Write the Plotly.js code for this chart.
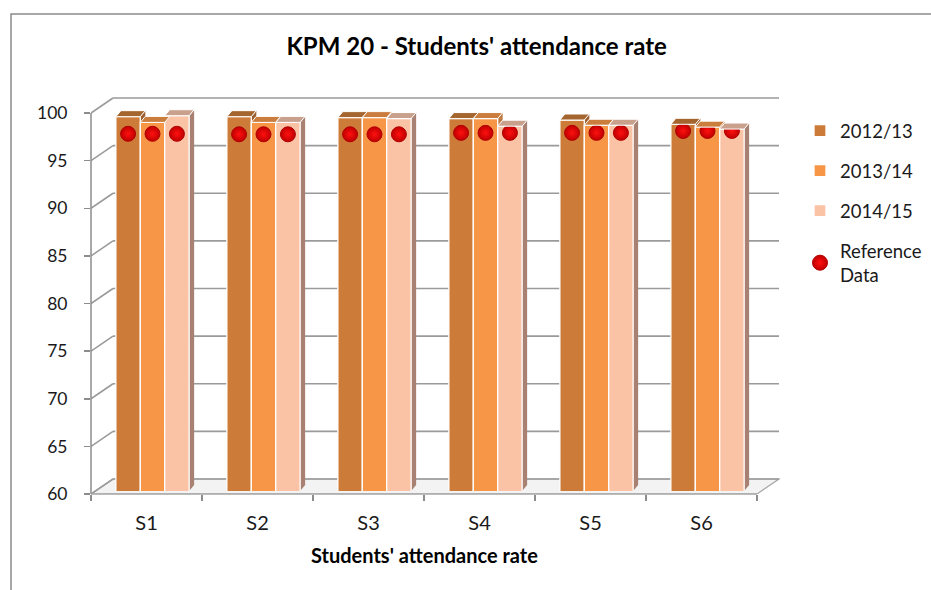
<!DOCTYPE html>
<html><head><meta charset="utf-8">
<script src="https://cdn.plot.ly/plotly-3.0.1.min.js"></script>
<style>html,body{margin:0;padding:0;background:#fff}#chart{width:931px;height:590px}</style>
</head><body><div id="chart"></div>
<script>
// ---- data ----
const categories = ['S1', 'S2', 'S3', 'S4', 'S5', 'S6'];
const seriesNames = ['2012/13', '2013/14', '2014/15'];
const values2012 = [99.3, 99.3, 99.2, 99.1, 98.95, 98.5];
const values2013 = [98.7, 98.7, 99.2, 99.1, 98.4, 98.2];
const values2014 = [99.4, 98.7, 99.1, 98.3, 98.4, 98.0];
const referenceData = [97.5, 97.45, 97.45, 97.6, 97.6, 97.8];
const yTickValues = [60, 65, 70, 75, 80, 85, 90, 95, 100];

const seriesValues = [values2012, values2013, values2014];

// ---- styling / geometry ----
const frontColors = ['#CD7B39', '#F79646', '#FAC3A5'];
const capColors = ['#A5652E', '#CB7D3D', '#C8A08C'];
const sideColors = ['#9C6132', '#C07A44', '#A98172'];
const W = 931, H = 590;
const M = {l: 91, r: 149, t: 94, b: 96};
const plotW = W - M.l - M.r;
const plotH = H - M.t - M.b;
const frontW = 666, frontH = 381;
const wallDX = 22, wallDY = 15;
const capDX = 5, capDY = 6;
const depthDX = 6, depthDY = 3;    // bars sit a little behind the front plane
const yMin = 60, yMax = 100;
const pxPerUnit = frontH / (yMax - yMin);
const yTop = yMin + plotH / pxPerUnit;
const catPx = frontW / categories.length;
const xLo = -0.5, xHi = xLo + plotW / catPx;
const bargap = 0.34;
const barW = (1 - bargap) / seriesNames.length;
const barPx = barW * catPx;
const gridColor = '#9a9a9a';
const axisColor = '#8c8c8c';
const FONT = 'Lato, "Open Sans", sans-serif';
const catIndex = categories.map((c, i) => i);
const boundaries = categories.map((c, i) => i - 0.5).concat([categories.length - 0.5]);

const traces = [];
seriesNames.forEach((nm, k) => {
  traces.push({
    type: 'bar', name: nm, x: categories, y: seriesValues[k], xaxis: 'x2', yaxis: 'y2',
    legendgroup: 'g' + k,
    marker: {color: frontColors[k], line: {color: '#ffffff', width: 1.3}},
    hoverinfo: 'x+y+name'
  });
});
seriesNames.forEach((nm, k) => {
  traces.push({
    type: 'scatter', mode: 'markers', name: 'Reference<br>Data',
    x: categories, y: referenceData, xaxis: 'x2', yaxis: 'y2',
    legendgroup: 'ref', showlegend: k === 0,
    marker: {size: 15, color: '#C00000', gradient: {type: 'radial', color: '#FF1010'},
             line: {color: '#B00000', width: 1}},
    hoverinfo: 'x+y'
  });
});

const shapes = [];
// floor
shapes.push({type: 'path', layer: 'below', xref: 'x', yref: 'y',
  xsizemode: 'pixel', ysizemode: 'pixel', xanchor: xLo, yanchor: yMin,
  path: `M0,0 L${frontW},0 L${frontW + wallDX},${wallDY} L${wallDX},${wallDY} Z`,
  fillcolor: '#f3f3f3', line: {color: '#a6a6a6', width: 1.2}});
// back wall grid + left wall diagonals
yTickValues.forEach(v => {
  shapes.push({type: 'line', layer: 'below', xref: 'x', yref: 'y',
    xsizemode: 'pixel', ysizemode: 'pixel', xanchor: xLo, yanchor: v,
    x0: wallDX, x1: wallDX + frontW, y0: wallDY, y1: wallDY,
    line: {color: gridColor, width: 1.6}});
  shapes.push({type: 'line', layer: 'below', xref: 'x', yref: 'y',
    xsizemode: 'pixel', ysizemode: 'pixel', xanchor: xLo, yanchor: v,
    x0: 0, x1: wallDX, y0: 0, y1: wallDY,
    line: {color: gridColor, width: 1.6}});
});
// bar side faces and caps
categories.forEach((c, i) => {
  seriesNames.forEach((nm, k) => {
    const v = seriesValues[k][i];
    const left = i - (1 - bargap) / 2 + k * barW;
    const h = (v - yMin) * pxPerUnit;
    shapes.push({type: 'path', layer: 'below', xref: 'x2', yref: 'y2',
      xsizemode: 'pixel', ysizemode: 'pixel', xanchor: left, yanchor: v,
      path: `M${barPx},0 L${barPx + capDX},${capDY} L${barPx + capDX},${capDY - h} L${barPx},${-h} Z`,
      fillcolor: sideColors[k], line: {width: 0}});
  });
});
categories.forEach((c, i) => {
  seriesNames.forEach((nm, k) => {
    const v = seriesValues[k][i];
    const left = i - (1 - bargap) / 2 + k * barW;
    shapes.push({type: 'path', layer: 'above', xref: 'x2', yref: 'y2',
      xsizemode: 'pixel', ysizemode: 'pixel', xanchor: left, yanchor: v,
      path: `M0,0 L${barPx},0 L${barPx + capDX},${capDY} L${capDX},${capDY} Z`,
      fillcolor: capColors[k], line: {color: '#ffffff', width: 1}});
  });
});
// front axis lines
shapes.push({type: 'line', xref: 'paper', yref: 'paper', ysizemode: 'pixel', yanchor: 0,
  x0: 0, x1: 0, y0: 0, y1: frontH, line: {color: axisColor, width: 1.5}});
shapes.push({type: 'line', xref: 'paper', yref: 'paper', xsizemode: 'pixel', xanchor: 0,
  x0: 0, x1: frontW, y0: 0, y1: 0, line: {color: '#a6a6a6', width: 1.5}});
// outer frame
shapes.push({type: 'rect', xref: 'paper', yref: 'paper',
  x0: (11 - M.l) / plotW, x1: 3, y0: -3, y1: (H - M.b - 14) / plotH,
  line: {color: '#8a8a8a', width: 1.5}, fillcolor: 'rgba(0,0,0,0)'});

const layout = {
  width: W, height: H, margin: M,
  paper_bgcolor: '#ffffff', plot_bgcolor: 'rgba(0,0,0,0)',
  font: {family: FONT, color: '#1a1a1a'},
  title: {text: "<b>KPM 20 - Students' attendance rate</b>", xref: 'container', x: 0.512,
    yref: 'container', y: 1 - 47 / H, yanchor: 'middle', xanchor: 'center',
    font: {size: 24, family: FONT, color: '#000'}},
  barmode: 'group', bargap: bargap, bargroupgap: 0,
  scattermode: 'group', scattergap: bargap,
  // front axes (ticks, labels, walls)
  xaxis: {type: 'linear', range: [xLo, xHi], domain: [0, 1], anchor: 'y',
    tickmode: 'array', tickvals: catIndex, ticktext: categories, ticks: '',
    showgrid: false, showline: false, zeroline: false,
    minor: {tickmode: 'array', tickvals: boundaries, ticks: 'outside', ticklen: 6,
            tickcolor: axisColor, tickwidth: 1.5, showgrid: false},
    tickfont: {size: 20, color: '#1a1a1a'}, ticklabelstandoff: 15, fixedrange: true},
  yaxis: {range: [yMin, yTop], domain: [0, 1], anchor: 'x', tickvals: yTickValues,
    showgrid: false, showline: false, zeroline: false,
    ticks: 'outside', ticklen: 6, tickcolor: axisColor, tickwidth: 1.5,
    tickfont: {size: 17.5, color: '#1a1a1a'}, ticklabelstandoff: 13, fixedrange: true},
  // bar plane, slightly behind the front
  xaxis2: {type: 'category', domain: [depthDX / plotW, 1], anchor: 'y2',
    range: [xLo, xLo + (plotW - depthDX) / catPx],
    showgrid: false, showline: false, zeroline: false, ticks: '', showticklabels: false, fixedrange: true},
  yaxis2: {domain: [depthDY / plotH, 1], anchor: 'x2',
    range: [yMin, yMin + (plotH - depthDY) / pxPerUnit],
    showgrid: false, showline: false, zeroline: false, ticks: '', showticklabels: false, fixedrange: true},
  legend: {xref: 'container', yref: 'container', x: 800 / W, y: 1 - 112 / H,
    xanchor: 'left', yanchor: 'top', traceorder: 'grouped', tracegroupgap: 13,
    font: {size: 18.5, family: FONT, color: '#1a1a1a'}, bgcolor: 'rgba(0,0,0,0)'},
  annotations: [{text: "<b>Students' attendance rate</b>", xref: 'x', x: 2.5,
    yref: 'paper', y: -(555 - (H - M.b)) / plotH, yanchor: 'middle', showarrow: false,
    font: {size: 20, family: FONT, color: '#000'}}],
  shapes: shapes,
  showlegend: true
};

Plotly.newPlot('chart', traces, layout, {displayModeBar: false, staticPlot: true});
</script></body></html>
